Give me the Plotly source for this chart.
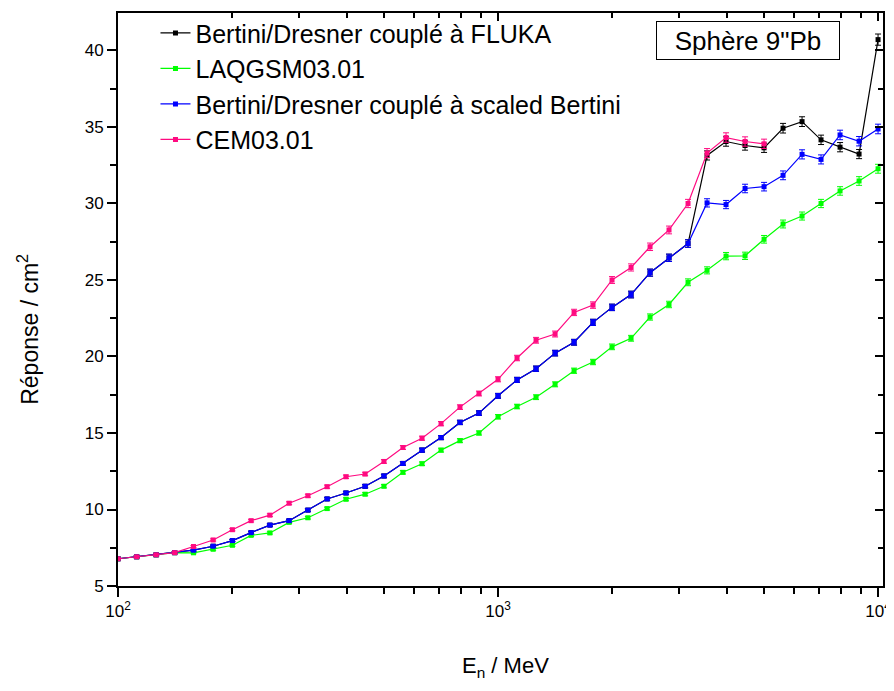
import plotly.graph_objects as go

# energies (MeV), 20 points per decade
energie = [100, 112, 126, 141, 158, 178, 200, 224, 251, 282,
           316, 355, 398, 447, 501, 562, 631, 708, 794, 891,
           1000, 1122, 1259, 1413, 1585, 1778, 1995, 2239, 2512, 2818,
           3162, 3548, 3981, 4467, 5012, 5623, 6310, 7079, 7943, 8913, 10000]

# Bertini/Dresner + scaled Bertini
rep_bertini = [6.78, 6.91, 7.04, 7.18, 7.34, 7.60, 7.97, 8.49, 8.98, 9.27,
               9.96, 10.69, 11.08, 11.52, 12.19, 13.01, 13.88, 14.70, 15.69, 16.30,
               17.43, 18.47, 19.20, 20.22, 20.93, 22.23, 23.21, 24.05, 25.48, 26.45,
               27.38, 30.04, 29.93, 30.98, 31.10, 31.84, 33.21, 32.88, 34.48, 34.07, 34.87]

# FLUKA au-dessus de 3 GeV (identique a Bertini en dessous)
rep_fluka = rep_bertini[:31] + [33.14, 34.05, 33.79, 33.64, 34.92, 35.35, 34.16, 33.68, 33.23, 40.71]

rep_laqgsm = [6.78, 6.91, 7.04, 7.18, 7.17, 7.40, 7.66, 8.31, 8.47, 9.16,
              9.46, 10.06, 10.67, 11.00, 11.52, 12.43, 12.99, 13.88, 14.50, 15.00,
              16.06, 16.73, 17.34, 18.18, 19.07, 19.64, 20.63, 21.19, 22.58, 23.40,
              24.85, 25.63, 26.56, 26.58, 27.66, 28.66, 29.18, 30.00, 30.82, 31.47, 32.27]

rep_cem = [6.78, 6.91, 7.04, 7.18, 7.58, 8.01, 8.68, 9.27, 9.63, 10.41,
           10.90, 11.49, 12.14, 12.32, 13.14, 14.05, 14.66, 15.61, 16.69, 17.58,
           18.51, 19.90, 21.06, 21.47, 22.88, 23.36, 25.00, 25.82, 27.17, 28.27,
           30.00, 33.29, 34.31, 34.05, 33.90]

series = [
    ("Bertini/Dresner couplé à FLUKA", rep_fluka, "#000000"),
    ("LAQGSM03.01", rep_laqgsm, "#00FF00"),
    ("Bertini/Dresner couplé à scaled Bertini", rep_bertini, "#0000FF"),
    ("CEM03.01", rep_cem, "#FF0A80"),
]

xr = [2, 4.013]
yr = [5, 42.45]
minor_x = [200, 300, 400, 500, 600, 700, 800, 900,
           2000, 3000, 4000, 5000, 6000, 7000, 8000, 9000]

fig = go.Figure()
for nom, vals, col in series:
    fig.add_trace(go.Scatter(
        x=energie[:len(vals)], y=vals, name=nom,
        mode="lines+markers",
        line=dict(color=col, width=1.2),
        marker=dict(symbol="square", size=5, color=col),
        error_y=dict(type="percent", value=0.9, color=col, thickness=1, width=3),
    ))

# empty trace for the mirrored (inside ticks) axes
fig.add_trace(go.Scatter(x=[], y=[], xaxis="x2", yaxis="y2", showlegend=False, hoverinfo="skip"))

# page body has an 8px margin, so the figure is 8px smaller than the window
fig.update_layout(
    width=886, height=683,
    margin=dict(l=110, r=11, t=2, b=105),
    plot_bgcolor="white", paper_bgcolor="white",
    font=dict(family="Liberation Sans, Arial", size=17, color="black"),
    legend=dict(x=0.049, y=1.005, xanchor="left", yanchor="top",
                bgcolor="rgba(0,0,0,0)", font=dict(size=25)),
    xaxis=dict(type="log", range=xr, tickvals=[100, 1000, 10000],
               ticktext=["10<sup>2</sup>", "10<sup>3</sup>", "10<sup>4</sup>"],
               ticks="outside", ticklen=9, tickwidth=1.5, tickcolor="black",
               showline=True, linewidth=2, linecolor="black", mirror=True,
               showgrid=False, zeroline=False, automargin=False,
               minor=dict(tickvals=minor_x, ticks="outside", ticklen=6, tickwidth=1.5,
                          tickcolor="black", showgrid=False)),
    yaxis=dict(range=yr, tick0=5, dtick=5,
               ticks="outside", ticklen=9, tickwidth=1.5, tickcolor="black",
               showline=True, linewidth=2, linecolor="black", mirror=True,
               showgrid=False, zeroline=False, automargin=False,
               minor=dict(dtick=2.5, tick0=5, ticks="outside", ticklen=6, tickwidth=1.5,
                          tickcolor="black", showgrid=False)),
    xaxis2=dict(type="log", range=xr, overlaying="x", side="top", anchor="y",
                tickvals=[100, 1000, 10000], ticks="inside", ticklen=8, tickwidth=1.5,
                tickcolor="black", showticklabels=False, showgrid=False, zeroline=False,
                automargin=False,
                minor=dict(tickvals=minor_x, ticks="inside", ticklen=5, tickwidth=1.5,
                           tickcolor="black", showgrid=False)),
    yaxis2=dict(range=yr, overlaying="y", side="right", anchor="x",
                tick0=5, dtick=5, ticks="inside", ticklen=8, tickwidth=1.5,
                tickcolor="black", showticklabels=False, showgrid=False, zeroline=False,
                automargin=False,
                minor=dict(dtick=2.5, tick0=5, ticks="inside", ticklen=5, tickwidth=1.5,
                           tickcolor="black", showgrid=False)),
    annotations=[
        dict(text="Sphère 9\"Pb", xref="paper", yref="paper",
             x=0.8235, y=0.952, xanchor="center", yanchor="middle",
             showarrow=False, font=dict(size=26),
             bordercolor="black", borderwidth=1, width=180, height=35,
             bgcolor="white"),
        # axis titles
        dict(text="Réponse / cm<sup>2</sup>", xref="paper", yref="paper",
             x=-0.117, y=0.448, xanchor="center", yanchor="middle",
             textangle=-90, showarrow=False, font=dict(size=23)),
        dict(text="E<sub>n</sub> / MeV", xref="paper", yref="paper",
             x=0.506, y=-0.142, xanchor="center", yanchor="middle",
             showarrow=False, font=dict(size=22)),
    ],
)

fig.write_html("out.html")
